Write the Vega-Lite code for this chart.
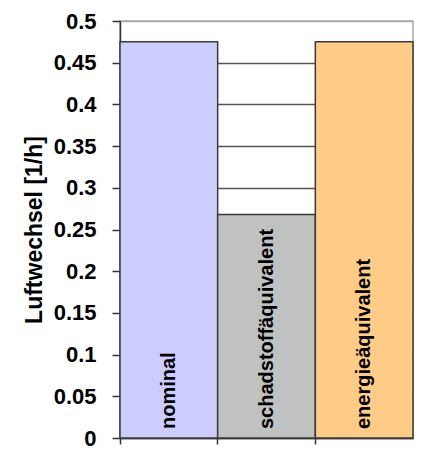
{
  "$schema": "https://vega.github.io/schema/vega-lite/v6.json",
  "width": 293,
  "height": 417,
  "autosize": "none",
  "padding": {"left": 120, "top": 21, "right": 10, "bottom": 19},
  "background": "white",
  "config": {
    "view": {"stroke": "#aaaaaa", "strokeWidth": 1.5},
    "font": "Liberation Sans"
  },
  "data": {
    "values": [
      {"kategorie": "nominal", "wert": 0.475, "farbe": "#ccccff"},
      {"kategorie": "schadstoffäquivalent", "wert": 0.268, "farbe": "#c0c2c2"},
      {"kategorie": "energieäquivalent", "wert": 0.475, "farbe": "#ffcc88"}
    ]
  },
  "encoding": {
    "x": {
      "field": "kategorie",
      "type": "nominal",
      "sort": null,
      "scale": {"paddingInner": 0, "paddingOuter": 0},
      "axis": {
        "title": null,
        "labels": false,
        "bandPosition": 0,
        "domainColor": "#333333",
        "domainWidth": 1.5,
        "tickColor": "#333333",
        "tickWidth": 1.5,
        "tickSize": 6,
        "grid": false
      }
    }
  },
  "layer": [
    {
      "mark": {"type": "bar", "stroke": "#3a3a3a", "strokeWidth": 1.5},
      "encoding": {
        "y": {
          "field": "wert",
          "type": "quantitative",
          "scale": {"domain": [0, 0.5], "nice": false},
          "axis": {
            "title": "Luftwechsel [1/h]",
            "titleFontSize": 23,
            "titleFontWeight": "bold",
            "titleColor": "black",
            "titlePadding": 7,
            "values": [0, 0.05, 0.1, 0.15, 0.2, 0.25, 0.3, 0.35, 0.4, 0.45, 0.5],
            "format": "~g",
            "labelFontSize": 22,
            "labelFontWeight": "bold",
            "labelColor": "black",
            "labelPadding": 16,
            "tickSize": 8,
            "tickColor": "#333333",
            "tickWidth": 1.5,
            "domainColor": "#333333",
            "domainWidth": 1.5,
            "grid": true,
            "gridColor": {"condition": {"test": "datum.value === 0.5", "value": "#aaaaaa"}, "value": "#555555"},
            "gridWidth": 1.5,
            "gridOpacity": 1
          }
        },
        "fill": {"field": "farbe", "type": "nominal", "scale": null}
      }
    },
    {
      "mark": {"type": "text", "angle": 270, "align": "left", "baseline": "middle", "dx": 9, "fontSize": 20, "fontWeight": "bold", "color": "black"},
      "encoding": {
        "y": {"datum": 0, "type": "quantitative"},
        "text": {"field": "kategorie"}
      }
    }
  ]
}
